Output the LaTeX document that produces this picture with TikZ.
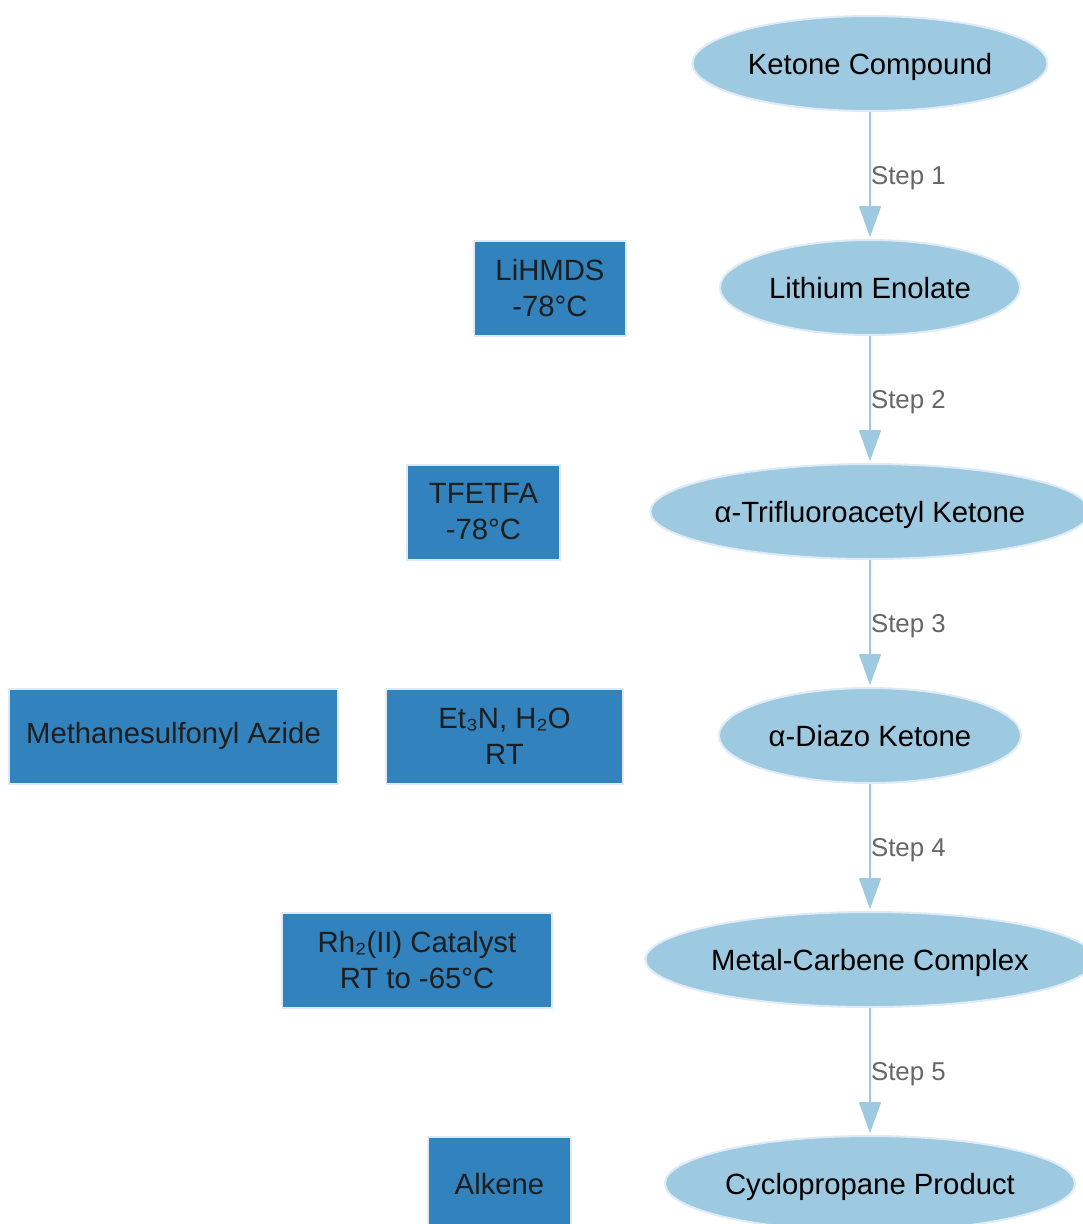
\documentclass[tikz,border=0pt]{standalone}
\usepackage{fontspec}
\setmainfont{Liberation Sans}
\usetikzlibrary{shapes.geometric,arrows.meta}
\definecolor{ellfill}{HTML}{9ECAE1}
\definecolor{ellline}{HTML}{DEEBF7}
\definecolor{boxfill}{HTML}{3182BD}
\definecolor{boxtext}{HTML}{1E1E1E}
\definecolor{lbl}{HTML}{666666}
\tikzset{
  state/.style={ellipse, fill=ellfill, draw=ellline, line width=2pt, inner sep=0pt,
    minimum height=95pt, text depth=0pt, font=\fontsize{29.3}{36}\selectfont, text=black},
  reagent/.style={rectangle, fill=boxfill, draw=ellline, line width=2pt, inner sep=0pt,
    minimum height=95pt, align=center, font=\fontsize{29.3}{36}\selectfont, text=boxtext},
  flow/.style={draw=ellfill, line width=2.2pt, -{Triangle[length=31pt,width=22pt]}, shorten >=2pt},
  steplbl/.style={anchor=west, inner sep=0pt, text depth=0pt, text=lbl, font=\fontsize{25.8}{30}\selectfont}
}
\begin{document}
\begin{tikzpicture}[x=1pt,y=-1pt]
\clip (0,0) rectangle (1083,1224);
\fill[white] (0,0) rectangle (1083,1224);
\node[state, minimum width=355pt] (k) at (870,63.5) {Ketone Compound};
\node[state, minimum width=300pt] (le) at (870,287.5) {Lithium Enolate};
\node[state, minimum width=430pt] (tk) at (870,511.5) {α-Trifluoroacetyl Ketone};
\node[state, minimum width=302pt] (dk) at (870,735.5) {α-Diazo Ketone};
\node[state, minimum width=444pt] (mc) at (870,959.5) {Metal-Carbene Complex};
\node[state, minimum width=410pt] (cp) at (870,1183.5) {Cyclopropane Product};

\node[reagent, minimum width=152pt] (r1) at (550,288) {LiHMDS\\-78°C};
\node[reagent, minimum width=153pt] (r2) at (483.5,512) {TFETFA\\-78°C};
\node[reagent, minimum width=329pt] (r3a) at (173.5,736) {Methanesulfonyl Azide};
\node[reagent, minimum width=237pt] (r3b) at (504.5,736) {Et₃N, H₂O\\RT};
\node[reagent, minimum width=270pt] (r4) at (417,960) {Rh₂(II) Catalyst\\RT to -65°C};
\node[reagent, minimum width=143pt] (r5) at (499.5,1184) {Alkene};

\draw[flow] (k.south) -- node[steplbl]{Step 1} (le.north);
\draw[flow] (le.south) -- node[steplbl]{Step 2} (tk.north);
\draw[flow] (tk.south) -- node[steplbl]{Step 3} (dk.north);
\draw[flow] (dk.south) -- node[steplbl]{Step 4} (mc.north);
\draw[flow] (mc.south) -- node[steplbl]{Step 5} (cp.north);
\end{tikzpicture}
\end{document}
